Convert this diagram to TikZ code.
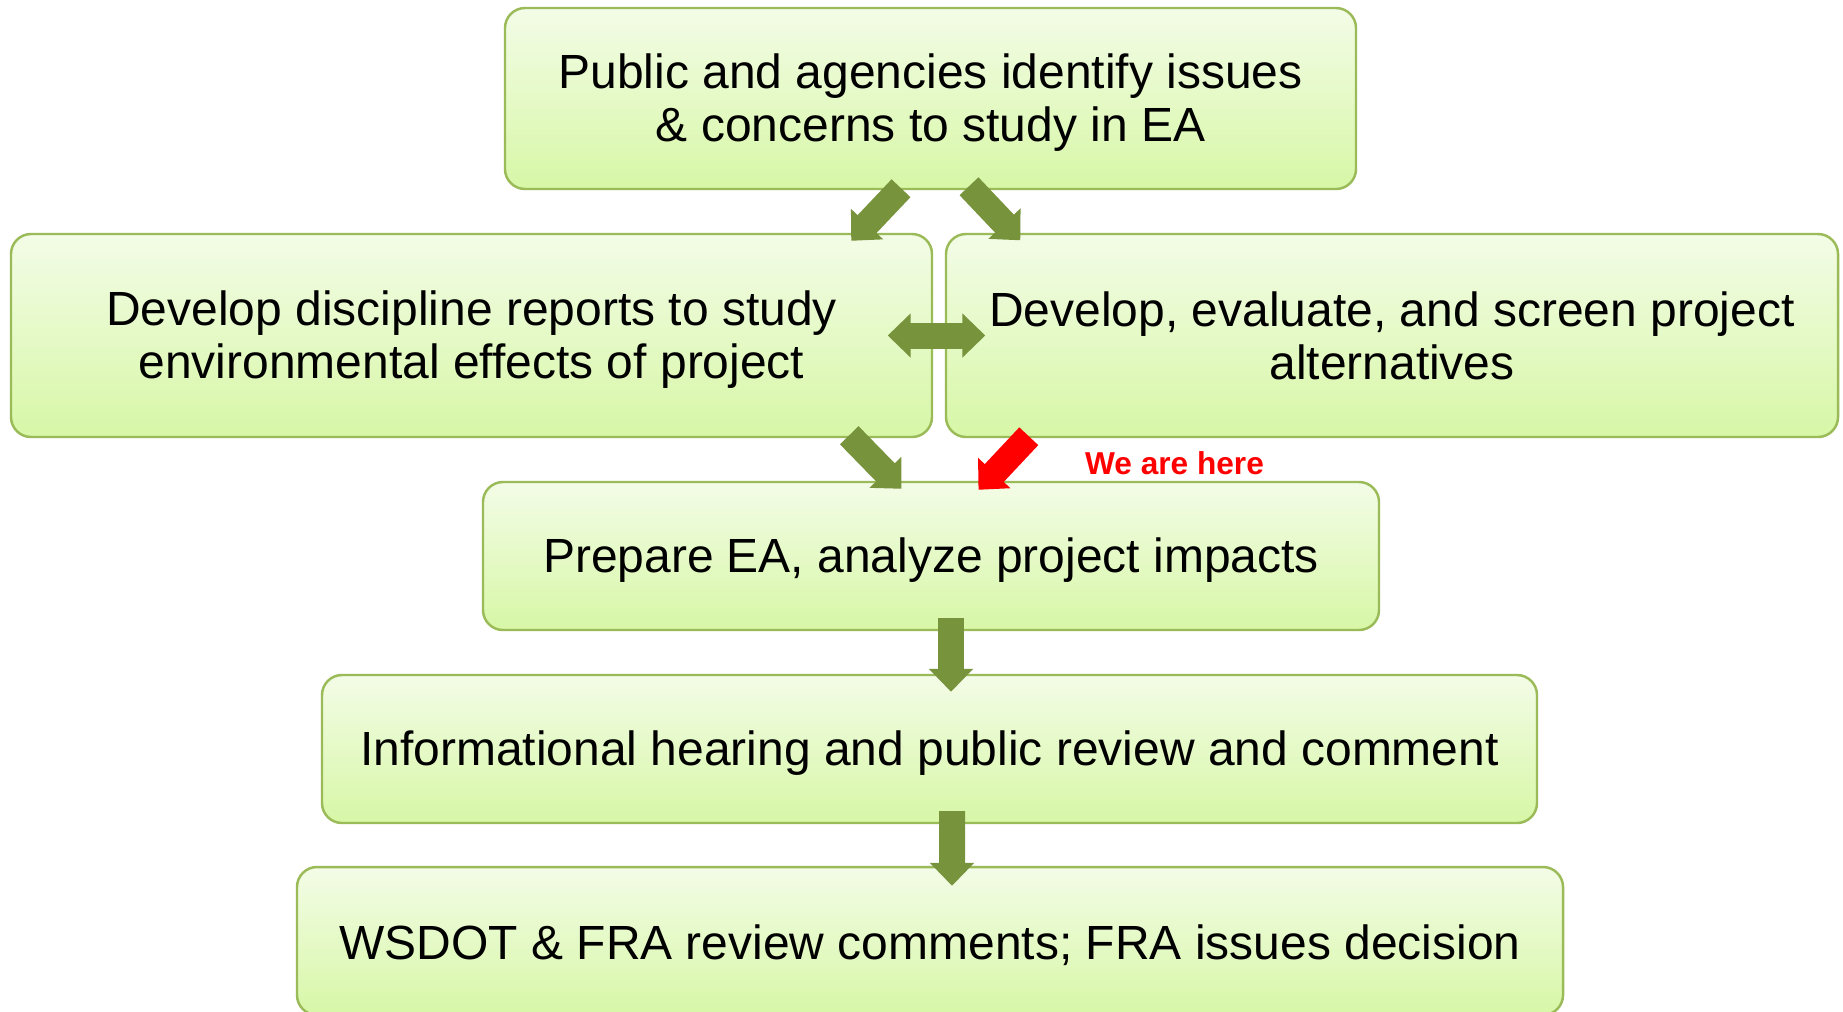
\documentclass[tikz,border=0pt]{standalone}
\usepackage{fontspec}
\setmainfont{Liberation Sans}
\usepackage{tikz}
\usetikzlibrary{arrows.meta,calc}

\definecolor{boxline}{RGB}{155,187,89}
\definecolor{boxtop}{RGB}{243,252,231}
\definecolor{boxbottom}{RGB}{215,247,166}
\definecolor{arrowgreen}{RGB}{119,147,60}

\begin{document}
\begin{tikzpicture}[scale = 1.0,
  box/.style={draw=boxline,line width=1.4pt,rounded corners=0.4cm,top color=boxtop,bottom color=boxbottom,align=center,inner sep=0pt,font=\fontsize{27.3}{30.2}\selectfont,execute at begin node={\rule{0pt}{24.5pt}}},
  twoline/.style={execute at begin node={\rule{0pt}{54.8pt}}},
  blockarrow/.style={color=arrowgreen,line width=0.52cm,-{Triangle[width=0.86cm,length=0.46cm]}},
  twoway/.style={{Triangle[width=0.86cm,length=0.46cm]}-{Triangle[width=0.86cm,length=0.46cm]}}]

    \useasboundingbox (0,0) rectangle (36.86,-20.22);

    % The steps
	\node [box, twoline, minimum width=17.02cm, minimum height=3.62cm] at (18.61,-1.97) (ident) {Public and agencies identify issues\\\& concerns to study in EA};
	\node [box, twoline, minimum width=18.42cm, minimum height=4.06cm] at (9.43,-6.71) (reports) {Develop discipline reports to study\\environmental effects of project};
	\node [box, minimum width=17.84cm, minimum height=4.06cm] at (27.84,-6.71) (alts) {Develop, evaluate, and screen project\\alternatives};
	\node [box, minimum width=17.92cm, minimum height=2.96cm] at (18.62,-11.12) (prepare) {Prepare EA, analyze project impacts};
	\node [box, minimum width=24.30cm, minimum height=2.96cm] at (18.59,-14.98) (hearing) {Informational hearing and public review and comment};
	\node [box, minimum width=25.32cm, minimum height=2.96cm] at (18.60,-18.82) (decision) {WSDOT \& FRA review comments; FRA issues decision};

	\node [anchor=base, inner sep=0pt, text=red, font=\bfseries\fontsize{18}{20}\selectfont] at (23.49,-9.48) (here) {We are here};

	% Step arrows
	\path[blockarrow]
	($(ident.south)+(-0.59,0.04)$) edge ($(reports.north east)+(-1.64,-0.16)$)
	($(ident.south)+(0.77,0.08)$) edge ($(alts.north west)+(1.51,-0.15)$)
	($(reports.east)+(-0.91,0)$) edge[twoway] ($(alts.west)+(0.81,0)$)
	($(reports.south east)+(-1.68,0.06)$) edge ($(prepare.north)+(-0.59,-0.16)$)
	($(alts.south west)+(1.68,0.04)$) edge[color=red] ($(prepare.north)+(0.95,-0.18)$)
	($(prepare.south)+(0.40,0.26)$) edge ($(hearing.north)+(0.43,-0.36)$)
	($(hearing.south)+(0.45,0.26)$) edge ($(decision.north)+(0.44,-0.40)$)
	;

\end{tikzpicture}
\end{document}
